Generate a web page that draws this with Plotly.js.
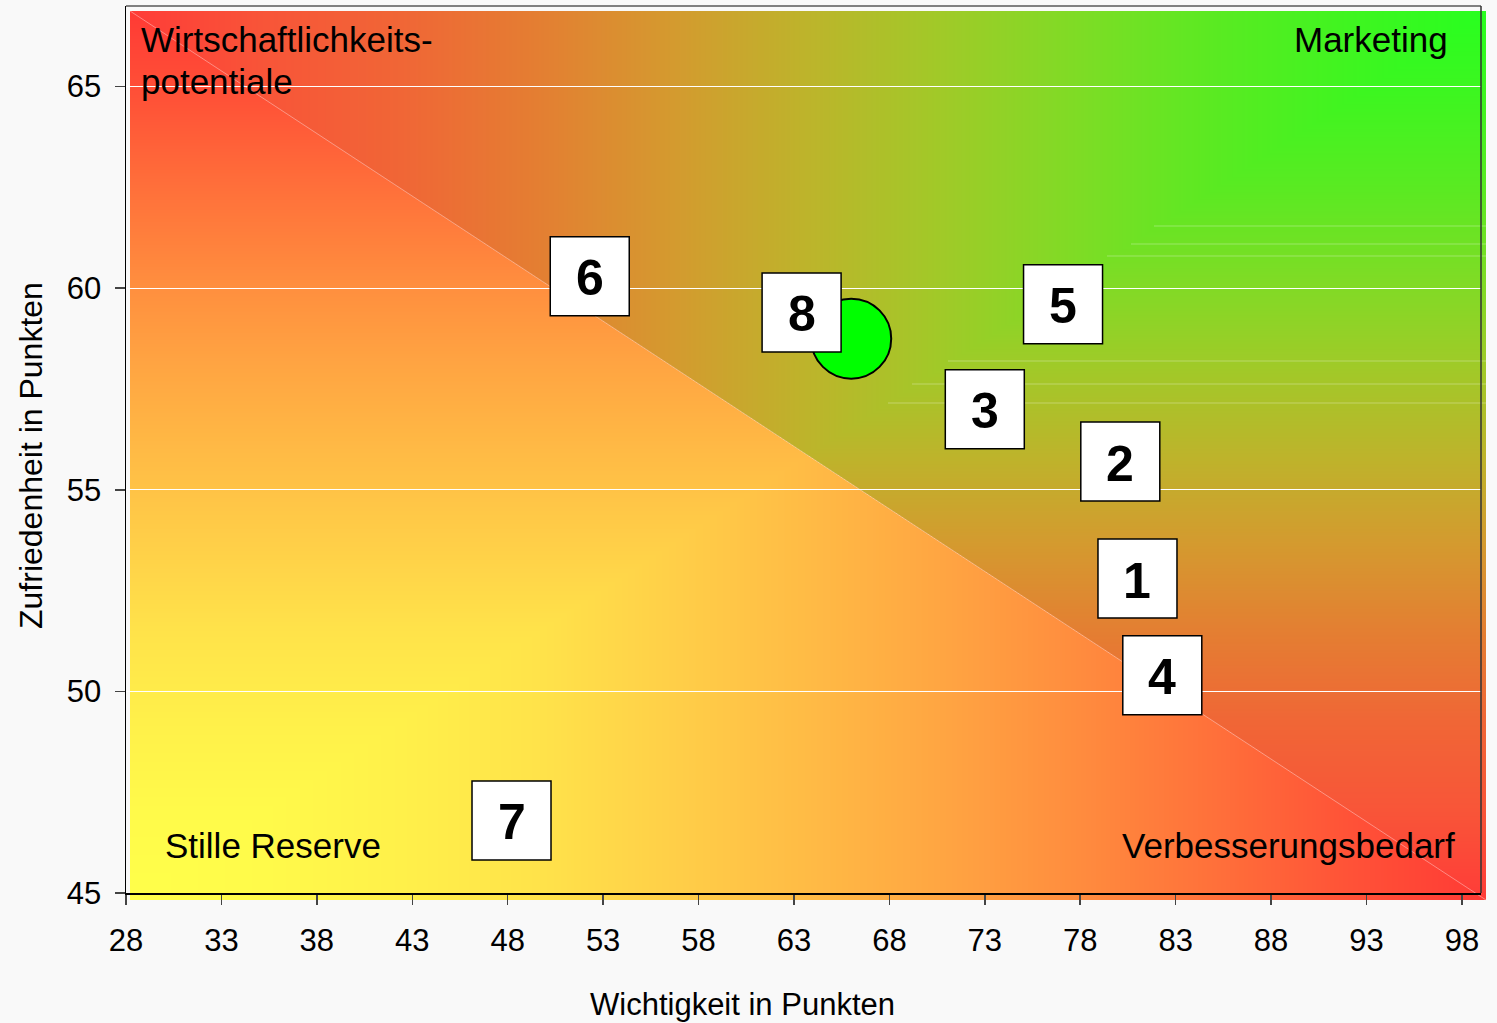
<!DOCTYPE html>
<html>
<head>
<meta charset="utf-8">
<script src="https://cdn.plot.ly/plotly-3.0.1.min.js"></script>
<style>
  html, body { margin: 0; padding: 0; background: #f9f9f9; }
  #chart { width: 1497px; height: 1023px; }
</style>
</head>
<body>
<div id="chart"></div>
<script>
// ---- Data ----
const labels        = ['1', '2', '3', '4', '5', '6', '7', '8'];
const wichtigkeit   = [81.0, 80.1, 73.0, 82.3, 77.1, 52.3, 48.2, 63.4];
const zufriedenheit = [52.8, 55.7, 57.0, 50.4, 59.6, 60.3, 46.8, 59.4];
const mittelX = [66.0];
const mittelY = [58.75];

const quadrantLabels = ['Wirtschaftlichkeits-', 'potentiale', 'Marketing', 'Stille Reserve', 'Verbesserungsbedarf'];
const xTitle = 'Wichtigkeit in Punkten';
const yTitle = 'Zufriedenheit in Punkten';

// ---- Background gradient (decoration) ----
const upperStops = [
  [0.0, [40, 255, 31]], [0.1, [63, 245, 32]], [0.2, [90, 234, 34]], [0.3, [126, 220, 37]],
  [0.4, [160, 202, 40]], [0.5, [189, 180, 43]], [0.6, [212, 154, 47]], [0.7, [228, 126, 50]],
  [0.8, [240, 102, 54]], [0.9, [248, 85, 56]], [1.0, [255, 60, 56]]
];
const lowerStops = [
  [0.0, [255, 255, 74]], [0.1, [255, 250, 74]], [0.2, [255, 240, 74]], [0.3, [255, 227, 74]],
  [0.4, [255, 207, 72]], [0.5, [255, 187, 69]], [0.6, [255, 165, 66]], [0.7, [255, 140, 62]],
  [0.8, [255, 112, 58]], [0.9, [255, 82, 55]], [1.0, [255, 58, 53]]
];
function colorAt(stops, t) {
  if (t <= 0) return stops[0][1];
  if (t >= 1) return stops[stops.length - 1][1];
  for (let i = 1; i < stops.length; i++) {
    if (t <= stops[i][0]) {
      const a = stops[i - 1], b = stops[i];
      const f = (t - a[0]) / (b[0] - a[0]);
      return [a[1][0] + (b[1][0] - a[1][0]) * f, a[1][1] + (b[1][1] - a[1][1]) * f, a[1][2] + (b[1][2] - a[1][2]) * f];
    }
  }
  return stops[stops.length - 1][1];
}
function makeBackground(W, H) {
  const c = document.createElement('canvas');
  c.width = W; c.height = H;
  const ctx = c.getContext('2d');
  const img = ctx.createImageData(W, H);
  const d = img.data;
  for (let py = 0; py < H; py++) {
    const yn = py / (H - 1);
    for (let px = 0; px < W; px++) {
      const xn = px / (W - 1);
      let col;
      if (yn < xn) {
        col = colorAt(upperStops, Math.max(1 - xn, yn));
      } else {
        col = colorAt(lowerStops, Math.max(xn, 1 - yn));
      }
      const k = (py * W + px) * 4;
      d[k] = col[0]; d[k + 1] = col[1]; d[k + 2] = col[2]; d[k + 3] = 255;
    }
  }
  ctx.putImageData(img, 0, 0);
  return c.toDataURL('image/png');
}

// plot area in pixels: x 126..1481, y 6..893
const L = 126, PW = 1355, T = 6, PH = 887;
const px2x = p => (p - L) / PW;
const py2y = p => (T + PH - p) / PH;

const bgW = 1356, bgH = 889;
const bgSrc = makeBackground(bgW, bgH);

const fontFam = 'Liberation Sans, Arial, sans-serif';

const traces = [
  {
    type: 'scatter', mode: 'markers',
    x: mittelX, y: mittelY,
    marker: { symbol: 'circle', size: 80, color: '#00ff00', line: { color: '#000000', width: 2 } },
    hoverinfo: 'skip', showlegend: false, cliponaxis: false
  },
  {
    type: 'scatter', mode: 'markers',
    x: wichtigkeit, y: zufriedenheit,
    marker: { symbol: 'square', size: 79, color: '#ffffff', line: { color: '#000000', width: 1.5 } },
    hoverinfo: 'skip', showlegend: false, cliponaxis: false
  }
];

// faint horizontal artefact lines in the upper right
const faint = [[226, 1154], [244, 1131], [256, 1107], [361, 948], [384, 912], [403, 888]];
const shapes = faint.map(f => ({
  type: 'line', xref: 'paper', yref: 'paper', layer: 'below',
  x0: px2x(f[1]), x1: px2x(1486), y0: py2y(f[0]), y1: py2y(f[0]),
  line: { color: 'rgba(255,255,255,0.3)', width: 1 }
}));
shapes.push({
  type: 'line', xref: 'paper', yref: 'paper', layer: 'below',
  x0: px2x(130), y0: py2y(11), x1: px2x(1486), y1: py2y(900),
  line: { color: 'rgba(255,225,225,0.45)', width: 1 }
});
shapes.push({
  type: 'line', xref: 'paper', yref: 'paper', layer: 'above',
  x0: 0, x1: 1, y0: 1, y1: 1, line: { color: '#808080', width: 2 }
});
shapes.push({
  type: 'line', xref: 'paper', yref: 'paper', layer: 'above',
  x0: 1, x1: 1, y0: 0, y1: 1, line: { color: '#333333', width: 1.5 }
});

const annFont = { family: fontFam, size: 35, color: '#000000' };
const annotations = [
  { text: quadrantLabels[0], x: px2x(139), y: py2y(40), xanchor: 'left', yanchor: 'middle' },
  { text: quadrantLabels[1], x: px2x(139), y: py2y(81), xanchor: 'left', yanchor: 'middle' },
  { text: quadrantLabels[2], x: px2x(1450), y: py2y(40), xanchor: 'right', yanchor: 'middle' },
  { text: quadrantLabels[3], x: px2x(163), y: py2y(845), xanchor: 'left', yanchor: 'middle' },
  { text: quadrantLabels[4], x: px2x(1457), y: py2y(845), xanchor: 'right', yanchor: 'middle' }
].map(a => Object.assign({ xref: 'paper', yref: 'paper', showarrow: false, font: annFont }, a));
annotations.push({
  text: xTitle, xref: 'paper', yref: 'paper', x: px2x(742), y: py2y(1004),
  xanchor: 'center', yanchor: 'middle', showarrow: false,
  font: { family: fontFam, size: 31, color: '#000000' }
});
annotations.push({
  text: yTitle, xref: 'paper', yref: 'paper', x: px2x(31), y: py2y(456),
  xanchor: 'center', yanchor: 'middle', showarrow: false, textangle: -90,
  font: { family: fontFam, size: 32, color: '#000000' }
});
// number labels inside the boxes
labels.forEach((lab, i) => {
  annotations.push({
    text: '<b>' + lab + '</b>', xref: 'x', yref: 'y', x: wichtigkeit[i], y: zufriedenheit[i],
    xanchor: 'center', yanchor: 'middle', showarrow: false, yshift: -2,
    font: { family: fontFam, size: 50, color: '#000000' }
  });
});

const layout = {
  width: 1497, height: 1023,
  margin: { l: L, r: 1497 - L - PW, t: T, b: 1023 - T - PH, pad: 0 },
  paper_bgcolor: '#f9f9f9',
  plot_bgcolor: 'rgba(0,0,0,0)',
  showlegend: false,
  font: { family: fontFam, color: '#000000' },
  xaxis: {
    range: [28, 99], tickmode: 'linear', tick0: 28, dtick: 5,
    showgrid: false, zeroline: false,
    showline: true, linecolor: '#000000', linewidth: 2,
    ticks: 'outside', ticklen: 10, tickwidth: 1.5, tickcolor: '#444444',
    ticklabelstandoff: 9,
    tickfont: { family: fontFam, size: 31, color: '#000000' },
    fixedrange: true
  },
  yaxis: {
    range: [45, 67], tickmode: 'linear', tick0: 45, dtick: 5,
    showgrid: true, gridcolor: '#ffffff', gridwidth: 1, zeroline: false,
    showline: true, linecolor: '#000000', linewidth: 1.5,
    ticks: 'outside', ticklen: 10, tickwidth: 1.5, tickcolor: '#444444',
    ticklabelstandoff: 7,
    tickfont: { family: fontFam, size: 31, color: '#000000' },
    fixedrange: true
  },
  images: [{
    source: bgSrc, xref: 'paper', yref: 'paper',
    x: px2x(130), y: py2y(11), sizex: bgW / PW, sizey: bgH / PH,
    xanchor: 'left', yanchor: 'top', sizing: 'stretch', layer: 'below'
  }],
  shapes: shapes,
  annotations: annotations
};

Plotly.newPlot('chart', traces, layout, { displayModeBar: false, staticPlot: true });
</script>
</body>
</html>
